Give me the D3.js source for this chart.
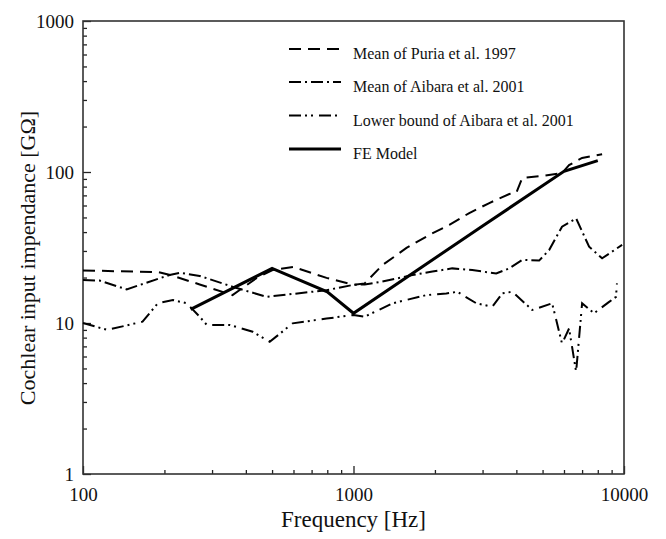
<!DOCTYPE html>
<html>
<head>
<meta charset="utf-8">
<script src="https://cdn.jsdelivr.net/npm/d3@7"></script>
<style>
  body { margin: 0; background: #fff; }
  svg text { font-family: "Liberation Serif", "Times New Roman", serif; fill: #111; }
</style>
</head>
<body>
<svg id="mainSvg" width="666" height="539"></svg>
<script>
// values (frequency in Hz, impedance in GOhm)
var puriaFreq = [100, 190, 210, 270, 357, 439, 502, 600, 795, 1000, 1100, 1280, 1570, 1906, 2261, 2679, 3177, 3767, 4000, 4206, 4977, 5901, 6265, 7000, 8300];
var puriaZ    = [22.3, 21.7, 20.8, 18.0, 15.3, 19.9, 22.4, 23.5, 19.9, 17.9, 18.3, 24.2, 31.4, 38.3, 44.6, 53.5, 62.3, 71.5, 73, 91.2, 94.1, 98.5, 111, 124, 131];

var aibaraFreq = [100, 115, 145, 209, 228, 270, 357, 477, 795, 1000, 1100, 1279, 1652, 1958, 2318, 2748, 3370, 3767, 4206, 4856, 5287, 5901, 6653, 7430, 8300, 9840];
var aibaraZ    = [19.3, 19.1, 16.7, 20.8, 21.5, 20.5, 17.4, 14.9, 16.5, 17.9, 18.0, 18.8, 20.8, 21.9, 23.0, 22.4, 21.3, 23.0, 26.2, 25.9, 30.4, 43.4, 49.3, 32.0, 26.8, 32.9];

var lowerFreq = [100, 123, 166, 189, 215, 242, 270, 287, 349, 424, 490, 596, 795, 1000, 1099, 1394, 1859, 2203, 2420, 2845, 3259, 3546, 3864, 4580, 5425, 5901, 6265, 6653, 7000, 7745, 8810, 9340, 9420];
var lowerZ    = [10.0, 9.0, 10.2, 13.5, 14.2, 13.5, 11.0, 9.7, 9.7, 8.75, 7.5, 9.95, 10.7, 11.3, 11.0, 13.5, 15.3, 15.7, 16.1, 13.5, 12.8, 15.7, 16.1, 12.2, 13.5, 7.3, 9.2, 4.75, 13.5, 11.6, 13.8, 14.9, 18.3];

var feFreq = [250, 500, 800, 1000, 3000, 6000, 8000];
var feZ    = [12.3, 23.0, 16.1, 11.6, 43.9, 101, 119];

var seriesNames = ["Mean of Puria et al. 1997", "Mean of Aibara et al. 2001", "Lower bound of Aibara et al. 2001", "FE Model"];

var xMajor = [100, 1000, 10000];
var yMajor = [1, 10, 100, 1000];

function drawChart() {
  var svg = d3.select("#mainSvg");
  var plotLeft = 83, plotRight = 624, plotTop = 21, plotBottom = 474;

  var x = d3.scaleLog().domain([100, 10000]).range([plotLeft, plotRight]);
  var y = d3.scaleLog().domain([1, 1000]).range([plotBottom, plotTop]);

  // minor ticks 2..9 per decade
  function minors(lo, hi) {
    var out = [];
    for (var d = lo; d < hi; d *= 10)
      for (var k = 2; k <= 9; k++) out.push(d * k);
    return out;
  }

  // x axis
  var gx = svg.append("g").attr("transform", "translate(0," + plotBottom + ")");
  gx.call(d3.axisBottom(x).tickValues(xMajor).tickFormat(d3.format("d"))
      .tickSizeInner(-8).tickSizeOuter(0).tickPadding(14));
  gx.append("g").call(d3.axisBottom(x).tickValues(minors(100, 10000)).tickFormat("")
      .tickSizeInner(-4).tickSizeOuter(0));

  // y axis
  var gy = svg.append("g").attr("transform", "translate(" + plotLeft + ",0)");
  gy.call(d3.axisLeft(y).tickValues(yMajor).tickFormat(d3.format("d"))
      .tickSizeInner(-8).tickSizeOuter(0).tickPadding(9));
  gy.append("g").call(d3.axisLeft(y).tickValues(minors(1, 1000)).tickFormat("")
      .tickSizeInner(-4).tickSizeOuter(0));

  svg.selectAll(".domain").remove();
  svg.selectAll(".tick line").attr("stroke", "#222").attr("stroke-width", 1.3);
  svg.selectAll(".tick text")
     .style("font-family", "'Liberation Serif', serif")
     .style("font-size", "19px").attr("fill", "#111");

  // frame
  svg.append("rect")
     .attr("x", plotLeft).attr("y", plotTop)
     .attr("width", plotRight - plotLeft).attr("height", plotBottom - plotTop)
     .attr("fill", "none").attr("stroke", "#333").attr("stroke-width", 1.6);

  // axis titles
  svg.append("text")
     .attr("x", (plotLeft + plotRight) / 2).attr("y", 527)
     .attr("text-anchor", "middle")
     .style("font-size", "23px")
     .text("Frequency [Hz]");

  svg.append("text")
     .attr("transform", "translate(35,258) rotate(-90)")
     .attr("text-anchor", "middle")
     .style("font-size", "22px")
     .text("Cochlear input impendance [G\u03A9]");

  // series
  var styles = [
    { dash: "12,7", width: 2 },
    { dash: "12,4,2,4", width: 2 },
    { dash: "12,4,2,4,2,6", width: 2 },
    { dash: null, width: 3 }
  ];
  var series = [
    d3.zip(puriaFreq, puriaZ),
    d3.zip(aibaraFreq, aibaraZ),
    d3.zip(lowerFreq, lowerZ),
    d3.zip(feFreq, feZ)
  ];

  var line = d3.line()
      .x(function(d) { return x(d[0]); })
      .y(function(d) { return y(d[1]); });

  var plot = svg.append("g");
  series.forEach(function(s, i) {
    plot.append("path")
        .datum(s)
        .attr("d", line)
        .attr("fill", "none")
        .attr("stroke", "#000")
        .attr("stroke-width", styles[i].width)
        .attr("stroke-linejoin", "miter")
        .attr("stroke-dasharray", styles[i].dash);
  });

  // legend
  var legendBase = [59, 92, 125.5, 159];
  var legend = svg.append("g");
  seriesNames.forEach(function(name, i) {
    var ly = legendBase[i] - 10;
    legend.append("line")
          .attr("x1", 289).attr("x2", 341)
          .attr("y1", ly).attr("y2", ly)
          .attr("stroke", "#000")
          .attr("stroke-width", styles[i].width)
          .attr("stroke-dasharray", styles[i].dash);
    legend.append("text")
          .attr("x", 353).attr("y", legendBase[i])
          .style("font-size", "16px")
          .text(name);
  });
}

drawChart();
</script>
</body>
</html>
